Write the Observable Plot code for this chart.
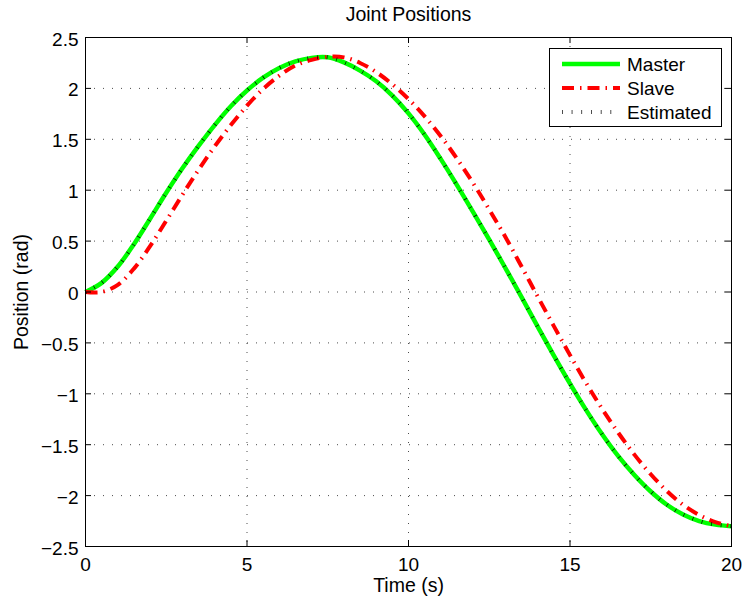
<!DOCTYPE html>
<html>
<head>
<meta charset="utf-8">
<script src="https://cdn.jsdelivr.net/npm/d3@7"></script>
<script src="https://cdn.jsdelivr.net/npm/@observablehq/plot@0.6"></script>
<style>
  html, body { margin: 0; padding: 0; background: #fff; }
  #wrap { position: relative; width: 744px; height: 604px; font-family: "Liberation Sans", Arial, Helvetica, sans-serif; }
  #legend { position: absolute; left: 549px; top: 48px; width: 173px; height: 79px; border: 1px solid #000; background: #fff; box-sizing: border-box; }
</style>
</head>
<body>
<div id="wrap"><div id="legend"></div></div>
<script>
// ---- data ----
const time = [0,0.5,1,1.5,2,2.5,3,3.5,4,4.5,5,5.5,6,6.5,7,7.5,8,8.5,9,9.5,10,10.5,11,11.5,12,12.5,13,13.5,14,14.5,15,15.5,16,16.5,17,17.5,18,18.5,19,19.5,20];
const master = [0,0.09,0.25,0.47,0.72,0.975,1.215,1.435,1.64,1.825,1.98,2.105,2.2,2.265,2.3,2.305,2.255,2.175,2.07,1.93,1.755,1.545,1.305,1.05,0.785,0.515,0.235,-0.05,-0.34,-0.625,-0.9,-1.16,-1.4,-1.615,-1.8,-1.96,-2.09,-2.185,-2.25,-2.285,-2.3];
const slave = [0,0,0.07,0.23,0.45,0.7,0.955,1.2,1.43,1.64,1.83,1.995,2.125,2.225,2.28,2.31,2.305,2.25,2.16,2.04,1.895,1.725,1.53,1.31,1.07,0.81,0.54,0.25,-0.045,-0.335,-0.62,-0.895,-1.15,-1.385,-1.6,-1.79,-1.955,-2.09,-2.19,-2.26,-2.3];
const estimated = [0,0.09,0.25,0.47,0.72,0.975,1.215,1.435,1.64,1.825,1.98,2.105,2.2,2.265,2.3,2.305,2.255,2.175,2.07,1.93,1.755,1.545,1.305,1.05,0.785,0.515,0.235,-0.05,-0.34,-0.625,-0.9,-1.16,-1.4,-1.615,-1.8,-1.96,-2.09,-2.185,-2.25,-2.285,-2.3];
const xTicks = [0,5,10,15,20];
const yTicks = [-2.5,-2,-1.5,-1,-0.5,0,0.5,1,1.5,2,2.5];
const seriesNames = ["Master","Slave","Estimated"];
const titleText = "Joint Positions";
const xLabel = "Time (s)";
const yLabel = "Position (rad)";

// ---- styles ----
const styles = {
  Master: {stroke: "#00ff00", strokeWidth: 4.5, strokeDasharray: null},
  Slave: {stroke: "#ff0000", strokeWidth: 4, strokeDasharray: "12,6,1.5,6"},
  Estimated: {stroke: "#000000", strokeWidth: 4, strokeDasharray: "0.7,9"}
};
const valuesBy = {Master: master, Slave: slave, Estimated: estimated};
const rows = s => time.map((t, i) => ({t, v: valuesBy[s][i]}));
const fmt = d => (d < 0 ? "\u2212" : "") + Math.abs(d);

const W = 744, H = 604, mL = 85, mR = 13, mT = 37, mB = 58;
const pw = W - mL - mR, ph = H - mT - mB, tk = 6;
const font = "'Liberation Sans', Arial, Helvetica, sans-serif";

const chart = Plot.plot({
  width: W, height: H,
  marginLeft: mL, marginRight: mR, marginTop: mT, marginBottom: mB,
  style: {fontFamily: font, fontSize: "19px", color: "#000", background: "#fff", overflow: "visible"},
  x: {domain: [0, 20], label: null},
  y: {domain: [-2.5, 2.5], label: null},
  marks: [
    Plot.gridX(xTicks, {stroke: "#000", strokeOpacity: 0.7, strokeDasharray: "1,8"}),
    Plot.gridY(yTicks, {stroke: "#000", strokeOpacity: 0.7, strokeDasharray: "1,8"}),
    ...seriesNames.map(s => Plot.line(rows(s), {x: "t", y: "v", curve: "catmull-rom",
      stroke: styles[s].stroke, strokeWidth: styles[s].strokeWidth,
      strokeDasharray: styles[s].strokeDasharray, strokeLinecap: "butt", strokeLinejoin: "round"})),
    Plot.frame({stroke: "#000", strokeWidth: 1}),
    Plot.tickX(xTicks, {x: d => d, insetTop: ph - tk, stroke: "#000"}),
    Plot.tickX(xTicks, {x: d => d, insetBottom: ph - tk, stroke: "#000"}),
    Plot.tickY(yTicks, {y: d => d, insetRight: pw - tk, stroke: "#000"}),
    Plot.tickY(yTicks, {y: d => d, insetLeft: pw - tk, stroke: "#000"}),
    Plot.axisX(xTicks, {tickSize: 0, tickPadding: 11, fontSize: 19, tickFormat: fmt, label: null}),
    Plot.axisY(yTicks, {tickSize: 0, tickPadding: 7, fontSize: 19, dy: 2, tickFormat: fmt, label: null}),
    Plot.text([titleText], {frameAnchor: "top", lineAnchor: "middle", dy: -23, fontSize: 19.5}),
    Plot.text([xLabel], {frameAnchor: "bottom", lineAnchor: "middle", dy: 39, fontSize: 19.5}),
    Plot.text([yLabel], {frameAnchor: "left", lineAnchor: "middle", textAnchor: "middle", dx: -64, rotate: -90, fontSize: 19.5})
  ]
});
document.getElementById("wrap").insertBefore(chart, document.getElementById("legend"));

// ---- legend ----
const lg = d3.select("#legend").append("svg").attr("width", 171).attr("height", 77)
  .style("display", "block").style("font-family", font);
seriesNames.forEach((s, i) => {
  const y = 15 + i * 24;
  lg.append("line").attr("x1", 12).attr("x2", 70).attr("y1", y).attr("y2", y)
    .attr("stroke", styles[s].stroke).attr("stroke-width", styles[s].strokeWidth)
    .attr("stroke-dasharray", styles[s].strokeDasharray);
  lg.append("text").attr("x", 77).attr("y", y).attr("dy", "0.35em")
    .style("font-size", "19px").text(s);
});
</script>
</body>
</html>
